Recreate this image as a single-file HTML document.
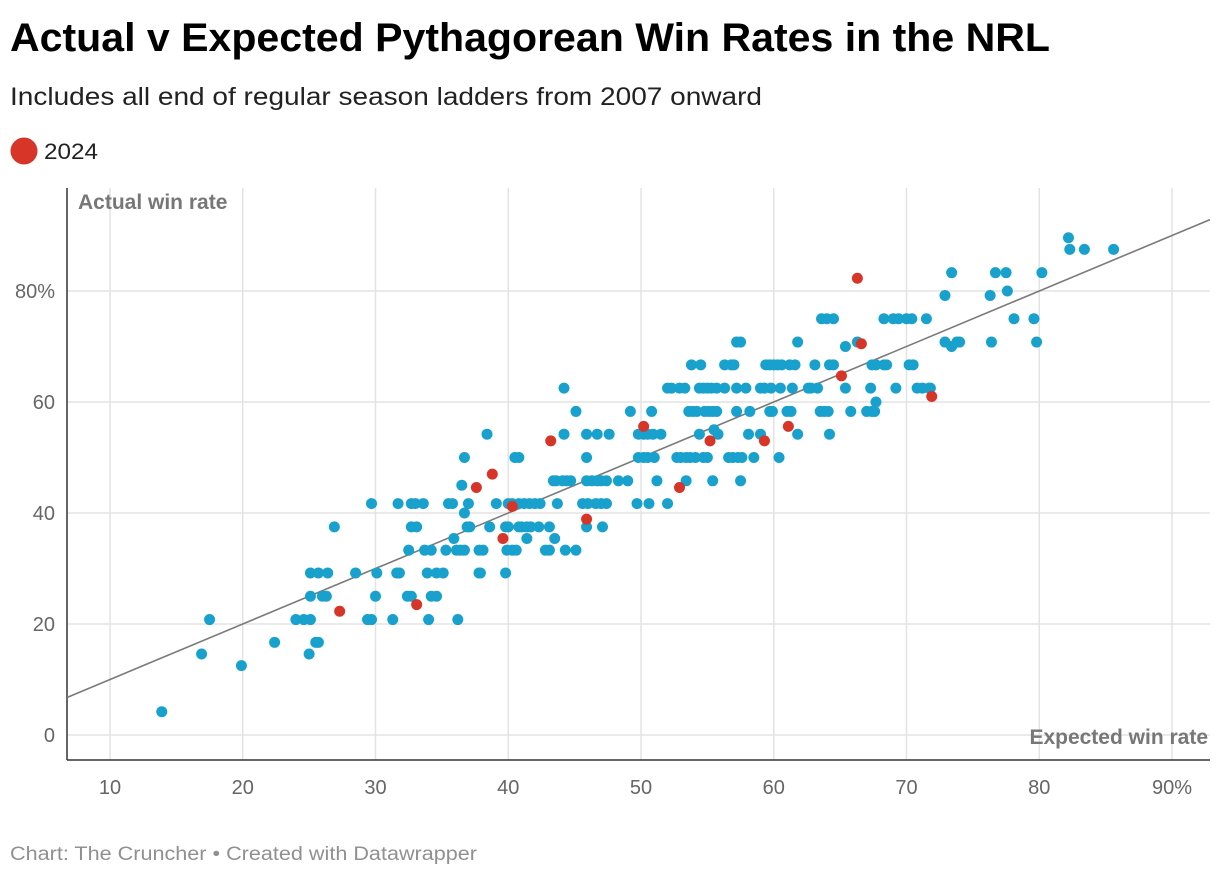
<!DOCTYPE html>
<html><head><meta charset="utf-8"><style>
html,body{margin:0;padding:0;background:#fff;}
svg{display:block;font-family:"Liberation Sans",sans-serif;}
</style></head><body>
<svg id="chart" width="1220" height="878" viewBox="0 0 1220 878">
<text x="10" y="51" font-size="40" font-weight="bold" fill="#000" textLength="1040" lengthAdjust="spacingAndGlyphs">Actual v Expected Pythagorean Win Rates in the NRL</text>
<text x="10" y="105" font-size="25" fill="#222" textLength="752" lengthAdjust="spacingAndGlyphs">Includes all end of regular season ladders from 2007 onward</text>
<circle cx="24" cy="151" r="13.5" fill="#d63527"/>
<text x="44" y="159" font-size="22" fill="#222" textLength="54" lengthAdjust="spacingAndGlyphs">2024</text>
<g id="grid"></g>
<g id="marks"></g>
<text x="10" y="860" font-size="19" fill="#909090" textLength="467" lengthAdjust="spacingAndGlyphs">Chart: The Cruncher • Created with Datawrapper</text>
</svg>
<script>
const xTicks=[10,20,30,40,50,60,70,80,90];
const xTickLabels=["10","20","30","40","50","60","70","80","90%"];
const yTicks=[0,20,40,60,80];
const yTickLabels=["0","20","40","60","80%"];
const blueRowY=[4.2,12.5,14.6,16.7,20.8,25,29.2,33.3,35.4,37.5,40,41.7,45,45.8,50,54.2,55,58.3,60,62.5,66.7,70,70.8,75,79.2,80,83.3,87.5,89.6];
const blueRowX=[
[13.9],
[19.9],
[16.9,25.0],
[22.4,25.5,25.7],
[17.5,24.0,24.6,25.1,29.4,29.7,31.3,34.0,36.2],
[25.1,26.0,26.3,30.0,32.4,32.7,34.2,34.6],
[25.1,25.7,26.4,28.5,30.1,31.6,31.8,33.9,34.6,35.1,37.8,37.9,39.8],
[32.5,33.7,34.2,35.3,36.1,36.4,36.7,37.8,38.1,39.9,40.3,40.6,42.8,43.1,44.3,45.1],
[35.9,41.4,43.5],
[26.9,32.7,33.1,36.9,37.1,38.6,39.8,40.0,40.8,41.0,41.4,41.7,42.3,43.1,45.9,47.1],
[36.7],
[29.7,31.7,32.7,33.0,33.6,35.5,35.8,37.0,39.1,40.0,40.3,40.8,41.2,41.6,42.0,42.4,43.7,45.6,46.0,46.6,47.0,47.4,49.7,50.6,52.0],
[36.5],
[43.4,43.6,44.1,44.4,44.7,45.9,46.3,46.7,47.0,47.4,48.3,49.0,51.2,53.4,55.4,57.5],
[36.7,40.5,40.8,45.9,49.8,50.2,50.5,51.0,52.7,53.0,53.4,53.7,54.1,54.7,55.0,56.6,56.9,57.3,57.6,58.5,60.4],
[38.4,44.2,45.9,46.7,47.6,49.8,50.2,50.5,50.9,51.5,54.4,55.8,58.1,59.0,61.8,64.2],
[55.5],
[45.1,49.2,50.8,53.6,53.9,54.2,54.8,55.1,55.4,55.7,57.2,58.2,59.7,59.9,61.0,61.3,63.5,63.8,64.1,65.8,67.0,67.4,67.6],
[67.7],
[44.2,52.0,52.3,52.9,53.3,54.4,54.7,55.0,55.3,55.7,56.3,57.2,57.9,59.0,59.3,59.8,60.5,61.4,62.6,62.8,63.3,65.4,67.3,69.2,70.8,71.2,71.7,71.8],
[53.8,54.5,56.3,56.8,57.0,59.4,59.7,60.0,60.3,60.6,61.2,61.6,63.1,64.2,64.5,67.4,67.7,68.3,68.5,70.2,70.5],
[65.4,73.4],
[57.2,57.5,61.8,66.3,72.9,73.8,74.0,76.4,79.8],
[63.6,64.0,64.5,68.3,69.0,69.4,70.0,70.4,71.5,78.1,79.6],
[72.9,76.3],
[77.6],
[73.4,76.7,77.5,80.2],
[82.3,83.4,85.6],
[82.2]
];
const redX=[27.3,33.1,39.6,45.9,40.3,37.6,52.9,38.8,43.2,55.2,59.3,50.2,61.1,65.1,71.9,66.6,66.3];
const redY=[22.3,23.5,35.4,38.9,41.2,44.6,44.6,47.0,53.0,53.0,53.0,55.6,55.6,64.7,61.0,70.5,82.3];

const NS="http://www.w3.org/2000/svg";
const L=67,R=1210,T=188,B=760;
function sx(v){return 110+(v-10)*13.275;}
function sy(v){return 735-v*5.55;}
function mk(tag,attrs,parent){const e=document.createElementNS(NS,tag);for(const k in attrs)e.setAttribute(k,attrs[k]);parent.appendChild(e);return e;}
const grid=document.getElementById('grid');
const marks=document.getElementById('marks');
xTicks.forEach((t,i)=>{
  const ln=mk('line',{x1:sx(t),x2:sx(t),y1:T,y2:B,stroke:'#e3e3e3','stroke-width':1.5},grid);
  
  
  const tx=mk('text',{x:sx(t),y:794,'font-size':20,fill:'#666','text-anchor':'middle'},grid);
  tx.textContent=xTickLabels[i];
  
  
});
yTicks.forEach((t,i)=>{
  const ln=mk('line',{x1:L,x2:R,y1:sy(t),y2:sy(t),stroke:'#e3e3e3','stroke-width':1.5},grid);
  
  
  const tx=mk('text',{x:55,y:sy(t)+7,'font-size':20,fill:'#666','text-anchor':'end'},grid);
  tx.textContent=yTickLabels[i];
  
  
});
const la=mk('line',{x1:L,x2:L,y1:T,y2:B,stroke:'#333','stroke-width':1.5},grid);


const ba=mk('line',{x1:L,x2:R,y1:B,y2:B,stroke:'#333','stroke-width':1.5},grid);


const yt=mk('text',{x:78,y:209,'font-size':21,'font-weight':'bold',fill:'#777'},grid);
yt.textContent='Actual win rate';


const xt=mk('text',{x:1208,y:744,'font-size':21,'font-weight':'bold',fill:'#777','text-anchor':'end'},grid);
xt.textContent='Expected win rate';


// y = x reference line
const vL=10+(L-110)/13.275, vR=10+(R-110)/13.275;
const ref=mk('line',{x1:sx(vL),y1:sy(vL),x2:sx(vR),y2:sy(vR),stroke:'#7a7a7a','stroke-width':1.6},marks);


blueRowY.forEach((yv,i)=>{
  blueRowX[i].forEach(xv=>{
    const c=mk('circle',{cx:sx(xv),cy:sy(yv),r:5.5,fill:'#18a1cd'},marks);
    
    
  });
});
redX.forEach((xv,i)=>{
  const c=mk('circle',{cx:sx(xv),cy:sy(redY[i]),r:5.5,fill:'#d63527'},marks);
  
  
});
</script>
</body></html>
